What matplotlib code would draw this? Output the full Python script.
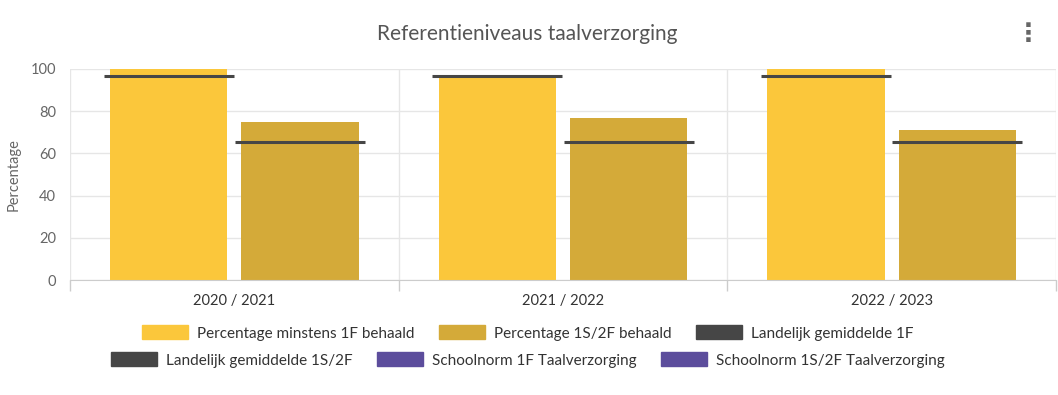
import matplotlib
matplotlib.use("Agg")
import matplotlib.pyplot as plt
from matplotlib.patches import Patch
import numpy as np

plt.rcParams['font.family'] = ['Lato', 'DejaVu Sans']

# data
jaren = ["2020 / 2021", "2021 / 2022", "2022 / 2023"]
pct_1f = [100, 96, 100]
pct_2f = [75, 77, 71]
landelijk_1f = [96.7, 96.7, 96.7]
landelijk_2f = [65.5, 65.5, 65.5]

geel = "#fbc73b"
goud = "#d4aa39"
donker = "#464646"
paars = "#5c4d9c"
tekst = "#666666"

fig = plt.figure(figsize=(10.58, 3.95), dpi=100)
ax = fig.add_axes([70 / 1058, 115 / 395, 986 / 1058, 211 / 395])

x = np.arange(len(jaren))
bw = 0.357
ax.bar(x - 0.2, pct_1f, width=bw, color=geel, zorder=2)
ax.bar(x + 0.2, pct_2f, width=bw, color=goud, zorder=2)

# landelijke gemiddelden als horizontale streepjes
lw = 0.395
ax.hlines(landelijk_1f, x - 0.2 - lw / 2, x - 0.2 + lw / 2, color=donker, lw=2.2, zorder=3)
ax.hlines(landelijk_2f, x + 0.2 - lw / 2, x + 0.2 + lw / 2, color=donker, lw=2.2, zorder=3)

ax.set_xlim(-0.5, 2.5)
ax.set_ylim(0, 100)
ax.set_yticks([0, 20, 40, 60, 80, 100])
ax.set_xticks([-0.5, 0.5, 1.5, 2.5])
ax.set_xticklabels([])
ax.set_xticks(x, minor=True)
ax.set_xticklabels(jaren, minor=True)
ax.tick_params(axis='x', which='major', length=8, color="#cccccc", width=1)
ax.tick_params(axis='x', which='minor', length=0, pad=10, labelsize=10.5, labelcolor="#333333")
ax.tick_params(axis='y', length=0, pad=10, labelsize=10.5, labelcolor=tekst)
ax.grid(True, which='major', color="#e6e6e6", lw=1, zorder=0)
ax.set_axisbelow(True)
for s in ["top", "right", "left"]:
    ax.spines[s].set_visible(False)
ax.spines["bottom"].set_color("#cccccc")

ax.set_ylabel("Percentage", fontsize=10.5, color=tekst, labelpad=7)

fig.text(527 / 1058, 1 - 34 / 395, "Referentieniveaus taalverzorging",
         ha="center", va="center", fontsize=15, color="#555555")
fig.text(1028 / 1058, 1 - 34 / 395, "⋮", ha="center", va="center",
         fontsize=18, fontweight="bold", color=tekst, family="DejaVu Sans")

# legenda in twee rijen
rij1 = [Patch(color=geel, label="Percentage minstens 1F behaald"),
        Patch(color=goud, label="Percentage 1S/2F behaald"),
        Patch(color=donker, label="Landelijk gemiddelde 1F")]
rij2 = [Patch(color=donker, label="Landelijk gemiddelde 1S/2F"),
        Patch(color=paars, label="Schoolnorm 1F Taalverzorging"),
        Patch(color=paars, label="Schoolnorm 1S/2F Taalverzorging")]
for handles, yy in [(rij1, 333), (rij2, 360)]:
    leg = fig.legend(handles=handles, loc="center", bbox_to_anchor=(528 / 1058, 1 - yy / 395),
                     ncol=3, frameon=False, fontsize=11, handlelength=3.0, handleheight=1.0,
                     handletextpad=0.6, columnspacing=1.6, labelcolor="#333333")

fig.savefig("out.png", dpi=100)
